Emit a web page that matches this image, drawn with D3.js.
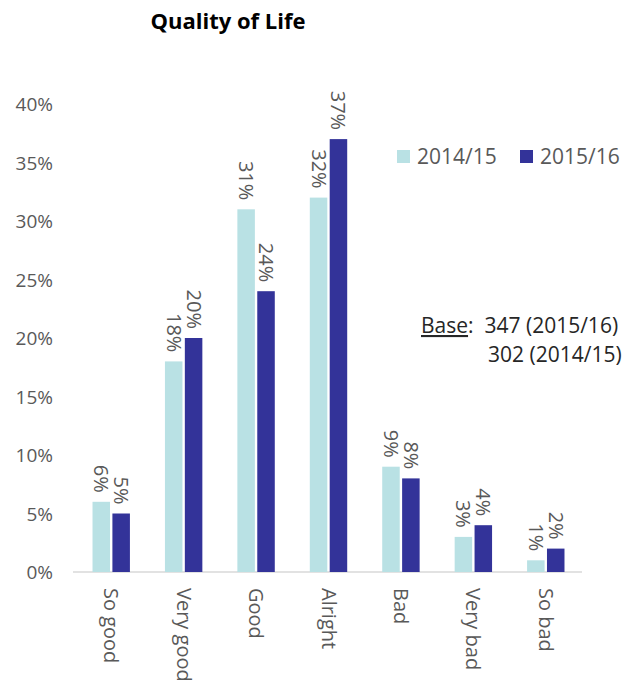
<!DOCTYPE html>
<html><head><meta charset="utf-8">
<script src="https://cdn.jsdelivr.net/npm/d3@7"></script>
<style>body{margin:0;background:#fff}svg{display:block}text{font-family:"Open Sans",Calibri,sans-serif}</style>
</head><body>
<svg id="c" width="626" height="684"></svg>
<script>
const categories = ["So good","Very good","Good","Alright","Bad","Very bad","So bad"];
const seriesNames = ["2014/15","2015/16"];
const values2014 = [6,18,31,32,9,3,1];
const values2015 = [5,20,24,37,8,4,2];
const yTicks = [0,5,10,15,20,25,30,35,40];
const colors = ["#b9e1e4","#333399"];

const svg = d3.select("#c");
const x = d3.scaleBand().domain(categories).range([75,582]);
const xs = d3.scaleBand().domain(seriesNames).range([0, x.bandwidth()]).paddingInner(0.12).paddingOuter(0.88);
const y = d3.scaleLinear().domain([0,40]).range([572,104]);

svg.append("text").attr("x",228).attr("y",29).attr("text-anchor","middle")
  .attr("font-weight","bold").attr("font-size",22).attr("fill","#000").text("Quality of Life");

// y axis
const ya = svg.append("g").attr("transform","translate(53,0)")
  .call(d3.axisLeft(y).tickValues(yTicks).tickFormat(d=>d+"%").tickSize(0).tickPadding(0));
ya.select(".domain").remove();
ya.selectAll("text").attr("font-size",19).attr("fill","#595959").attr("font-family","Open Sans, sans-serif").attr("dy","0.35em");

// baseline / x axis
const xa = svg.append("g").attr("transform","translate(0,572)")
  .call(d3.axisBottom(x).tickSize(0).tickPadding(0));
xa.select(".domain").attr("stroke","#d9d9d9").attr("stroke-width",1.5).attr("d","M73,0H582");
xa.selectAll("text").attr("font-size",20).attr("fill","#595959").attr("font-family","Open Sans, sans-serif")
  .attr("text-anchor","start").attr("transform","translate(0,16) rotate(90)").attr("dy","0.35em").attr("x",0).attr("y",0);

const data = categories.map((c,i)=>({c, vals:[values2014[i], values2015[i]]}));
const groups = svg.append("g").selectAll("g").data(data).join("g")
  .attr("transform", d=>`translate(${x(d.c)},0)`);
seriesNames.forEach((s,si)=>{
  groups.append("rect")
    .attr("x", xs(s)).attr("width", xs.bandwidth())
    .attr("y", d=>y(d.vals[si])).attr("height", d=>y(0)-y(d.vals[si]))
    .attr("fill", colors[si]);
  groups.append("text")
    .attr("transform", d=>`translate(${xs(s)+xs.bandwidth()/2},${y(d.vals[si])-9}) rotate(90)`)
    .attr("text-anchor","end").attr("dy","0.35em")
    .attr("font-size",20).attr("fill","#595959")
    .text(d=>d.vals[si]+"%");
});

// legend
const leg = svg.append("g");
const legX = [397,520];
seriesNames.forEach((s,i)=>{
  leg.append("rect").attr("x",legX[i]).attr("y",150).attr("width",13).attr("height",13).attr("fill",colors[i]);
  leg.append("text").attr("x",legX[i]+20).attr("y",164).attr("font-size",21).attr("fill","#595959").text(s);
});

// base note
const note = svg.append("g").attr("font-size",21).attr("fill","#262626");
const l1 = note.append("text").attr("x",421).attr("y",333);
l1.append("tspan").attr("text-decoration","underline").text("Base");
l1.append("tspan").text(":\u00a0 347 (2015/16)");
note.append("text").attr("x",488).attr("y",362).text("302 (2014/15)");
</script>
</body></html>
